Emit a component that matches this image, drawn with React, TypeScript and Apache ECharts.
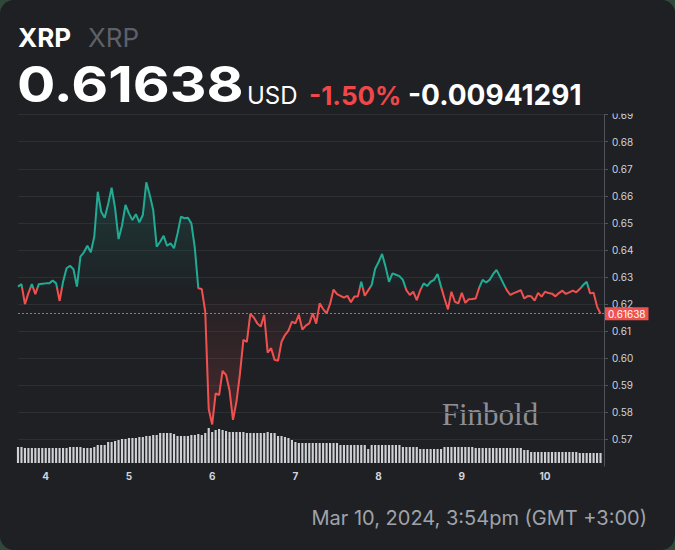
import React, { useEffect, useRef } from 'react';
import * as echarts from 'echarts';

// ---- header / footer texts ----
const symbolName = 'XRP';
const symbolSub = 'XRP';
const lastPrice = 0.61638;
const currency = 'USD';
const changePct = '-1.50%';
const changeAbs = -0.00941291;
const timestampLabel = 'Mar 10, 2024, 3:54pm (GMT +3:00)';
const watermark = 'Finbold';

// ---- time axis: hourly points starting Mar 3, 16:00 ----
const startDay = 3;
const startHour = 16;

// ---- price axis ----
const yMin = 0.56;
const yMax = 0.69;
const yStep = 0.01;

// ---- hourly prices (USD) ----
const prices = [
  0.6264, 0.6273, 0.6199, 0.6240, 0.6273, 0.6236, 0.6273, 0.6275, 0.6276, 0.6276,
  0.6287, 0.6276, 0.6211, 0.6282, 0.6332, 0.6341, 0.6328, 0.6264, 0.6375, 0.6391,
  0.6415, 0.6391, 0.6449, 0.6615, 0.6541, 0.6519, 0.6570, 0.6630, 0.6554, 0.6440,
  0.6490, 0.6566, 0.6535, 0.6510, 0.6532, 0.6502, 0.6529, 0.6650, 0.6603, 0.6547,
  0.6412, 0.6430, 0.6452, 0.6415, 0.6424, 0.6406, 0.6460, 0.6523, 0.6517, 0.6519,
  0.6498, 0.6406, 0.6258, 0.6255, 0.6171, 0.5810, 0.5754, 0.5869, 0.5863, 0.5952,
  0.5937, 0.5880, 0.5771, 0.5838, 0.5940, 0.6067, 0.6060, 0.6163, 0.6150, 0.6128,
  0.6116, 0.6160, 0.6020, 0.6036, 0.5993, 0.5990, 0.6060, 0.6085, 0.6101, 0.6134,
  0.6128, 0.6160, 0.6105, 0.6120, 0.6128, 0.6165, 0.6127, 0.6202, 0.6181, 0.6165,
  0.6200, 0.6253, 0.6236, 0.6230, 0.6223, 0.6230, 0.6206, 0.6227, 0.6227, 0.6282,
  0.6230, 0.6250, 0.6270, 0.6330, 0.6355, 0.6385, 0.6338, 0.6282, 0.6313, 0.6308,
  0.6303, 0.6289, 0.6251, 0.6233, 0.6245, 0.6214, 0.6250, 0.6276, 0.6266, 0.6282,
  0.6289, 0.6311, 0.6264, 0.6220, 0.6180, 0.6245, 0.6208, 0.6202, 0.6241, 0.6204,
  0.6217, 0.6218, 0.6220, 0.6260, 0.6289, 0.6279, 0.6289, 0.6310, 0.6326, 0.6301,
  0.6275, 0.6250, 0.6233, 0.6240, 0.6245, 0.6251, 0.6220, 0.6229, 0.6228, 0.6212,
  0.6241, 0.6227, 0.6245, 0.6240, 0.6238, 0.6228, 0.6240, 0.6249, 0.6237, 0.6243,
  0.6249, 0.6243, 0.6255, 0.6270, 0.6282, 0.6239, 0.6241, 0.6190, 0.61638,
];

// ---- hourly volume (relative units) ----
const volumes = [
  16, 16, 15, 15, 15, 15, 15, 15, 15, 15, 15, 15, 15, 15, 15, 16, 16, 16, 16, 15,
  15, 15, 16, 18, 18, 18, 21, 21, 22, 23, 24, 24, 25, 25, 25, 26, 26, 27, 27, 28,
  28, 30, 30, 30, 30, 29, 27, 27, 27, 27, 28, 28, 29, 28, 30, 35, 31, 33, 34, 33,
  32, 31, 31, 31, 31, 31, 30, 30, 30, 30, 30, 30, 31, 30, 30, 27, 27, 26, 25, 23,
  21, 20, 20, 20, 20, 20, 20, 20, 20, 20, 20, 20, 20, 18, 18, 18, 18, 18, 18, 18,
  18, 14, 18, 18, 18, 18, 18, 18, 18, 18, 18, 16, 16, 16, 16, 16, 14, 14, 14, 14,
  14, 14, 14, 16, 16, 16, 16, 16, 16, 16, 16, 16, 15, 15, 15, 15, 15, 15, 15, 15,
  15, 15, 15, 15, 15, 15, 13, 13, 11, 11, 11, 11, 11, 11, 11, 11, 11, 11, 11, 11,
  11, 11, 10, 10, 10, 10, 10, 10, 10,
];

const BG = '#1e2024';
const GREEN = '#22ab94';
const RED = '#f0514f';
const TEXT_RED = '#f0474a';
const GRID_LINE = '#2c2f34';
const AXIS_LINE = '#50535a';
const AXIS_TEXT = '#d1d4dc';

export default function App() {
  const ref = useRef<HTMLDivElement>(null);

  useEffect(() => {
    if (!ref.current) return;
    const chart = echarts.init(ref.current, undefined, { renderer: 'svg' });

    const baseline = lastPrice - changeAbs; // opening price of the period

    // categories: one per hour (plus one trailing slot)
    const categories: string[] = [];
    for (let i = 0; i <= prices.length; i++) {
      const h = startHour + i;
      const day = startDay + Math.floor(h / 24);
      categories.push(day + ' ' + (h % 24) + ':00');
    }
    const isMidnight = (v: string) => v.endsWith(' 0:00');

    const pMax = Math.max(...prices);
    const pMin = Math.min(...prices);
    const stop = (pMax - baseline) / (pMax - pMin);

    const areaGradient = new echarts.graphic.LinearGradient(0, 0, 0, 1, [
      { offset: 0, color: 'rgba(34,171,148,0.26)' },
      { offset: Math.max(0, stop - 0.001), color: 'rgba(34,171,148,0.02)' },
      { offset: Math.min(1, stop + 0.001), color: 'rgba(240,81,79,0.02)' },
      { offset: 1, color: 'rgba(240,81,79,0.28)' },
    ]);

    const font = 'Inter, "Noto Sans", sans-serif';

    chart.setOption({
      animation: false,
      backgroundColor: 'transparent',
      grid: [
        { left: 18, width: 586, top: 114.7, height: 351.4 },
        { left: 18, width: 586, top: 425, height: 38 },
      ],
      xAxis: [
        {
          type: 'category',
          gridIndex: 0,
          data: categories,
          boundaryGap: false,
          axisLine: { show: false },
          axisTick: { show: false },
          splitLine: { show: false },
          axisLabel: {
            interval: (_i: number, v: string) => isMidnight(v),
            formatter: (v: string) => (isMidnight(v) ? v.split(' ')[0] : ''),
            color: AXIS_TEXT,
            fontSize: 10,
            fontWeight: 'bold',
            fontFamily: font,
            margin: 5,
          },
        },
        {
          type: 'category',
          gridIndex: 1,
          data: categories,
          boundaryGap: false,
          show: false,
        },
      ],
      yAxis: [
        {
          type: 'value',
          gridIndex: 0,
          position: 'right',
          min: yMin,
          max: yMax,
          interval: yStep,
          axisLine: { show: true, lineStyle: { color: AXIS_LINE, width: 1 } },
          axisTick: { show: true, length: 4, lineStyle: { color: AXIS_LINE } },
          axisLabel: {
            color: AXIS_TEXT,
            fontSize: 10,
            fontFamily: font,
            margin: 8,
            showMinLabel: false,
            formatter: (v: number) => v.toFixed(2),
          },
          splitLine: { show: true, showMinLine: false, lineStyle: { color: GRID_LINE, width: 1 } },
        },
        {
          type: 'value',
          gridIndex: 1,
          min: 0,
          max: 38,
          show: false,
          splitLine: { show: false },
        },
      ],
      visualMap: {
        type: 'piecewise',
        show: false,
        seriesIndex: 0,
        dimension: 1,
        pieces: [
          { gt: baseline, lte: yMax, color: GREEN },
          { gte: yMin, lte: baseline, color: RED },
        ],
        outOfRange: { color: RED },
      },
      series: [
        {
          type: 'line',
          xAxisIndex: 0,
          yAxisIndex: 0,
          data: prices,
          symbol: 'none',
          z: 3,
          lineStyle: { width: 2 },
          areaStyle: { origin: baseline, color: areaGradient },
        },
        {
          type: 'bar',
          xAxisIndex: 1,
          yAxisIndex: 1,
          data: volumes,
          barWidth: '62%',
          clip: false,
          itemStyle: { color: 'rgba(226,228,232,0.9)' },
          z: 1,
        },
        {
          // carrier for the last-price line (kept outside the visualMap)
          type: 'line',
          xAxisIndex: 0,
          yAxisIndex: 0,
          data: [],
          color: RED,
          z: 4,
          markLine: {
            silent: true,
            symbol: 'none',
            precision: 5,
            data: [{ yAxis: lastPrice }],
            lineStyle: { color: RED, type: [2, 2], width: 1, opacity: 1 },
            label: {
              show: true,
              position: 'end',
              distance: 1,
              formatter: () => lastPrice.toFixed(5),
              color: '#ffffff',
              backgroundColor: RED,
              fontSize: 10,
              fontFamily: font,
              padding: [2, 3, 1, 3],
            },
          },
        },
      ],
      graphic: [
        {
          type: 'rect',
          z: 50,
          shape: { x: 606, y: 0, width: 69, height: 113.5 },
          style: { fill: BG },
        },
        {
          type: 'text', x: 18, y: 37,
          style: { text: symbolName, fill: '#ffffff', font: 'bold 26px ' + font, align: 'left', verticalAlign: 'middle' },
        },
        {
          type: 'text', x: 88, y: 37,
          style: { text: symbolSub, fill: '#5d6068', font: '26px ' + font, align: 'left', verticalAlign: 'middle' },
        },
        {
          type: 'text', x: 17, y: 84, scaleX: 1.14,
          style: { text: lastPrice.toFixed(5), fill: '#ffffff', font: 'bold 50px ' + font, align: 'left', verticalAlign: 'middle' },
        },
        {
          type: 'text', x: 247, y: 95,
          style: { text: currency, fill: '#ffffff', font: '24px ' + font, align: 'left', verticalAlign: 'middle' },
        },
        {
          type: 'text', x: 309, y: 95,
          style: { text: changePct, fill: TEXT_RED, font: 'bold 26px ' + font, align: 'left', verticalAlign: 'middle' },
        },
        {
          type: 'text', x: 408, y: 95,
          style: { text: changeAbs.toFixed(8), fill: '#ffffff', font: 'bold 28px ' + font, align: 'left', verticalAlign: 'middle' },
        },
        {
          type: 'text', x: 490, y: 414,
          style: { text: watermark, fill: '#8d8f94', font: '31px "Liberation Serif", "DejaVu Serif", serif', align: 'center', verticalAlign: 'middle' },
        },
        {
          type: 'text', x: 647, y: 518,
          style: { text: timestampLabel, fill: '#a0a3aa', font: '20px ' + font, align: 'right', verticalAlign: 'middle' },
        },
      ],
    });

    return () => chart.dispose();
  }, []);

  return (
    <div style={{ position: 'fixed', left: 0, top: 0, width: 675, height: 550, background: '#30483a' }}>
      <div
        ref={ref}
        style={{ width: 675, height: 550, background: BG, borderRadius: 14, overflow: 'hidden' }}
      />
    </div>
  );
}
